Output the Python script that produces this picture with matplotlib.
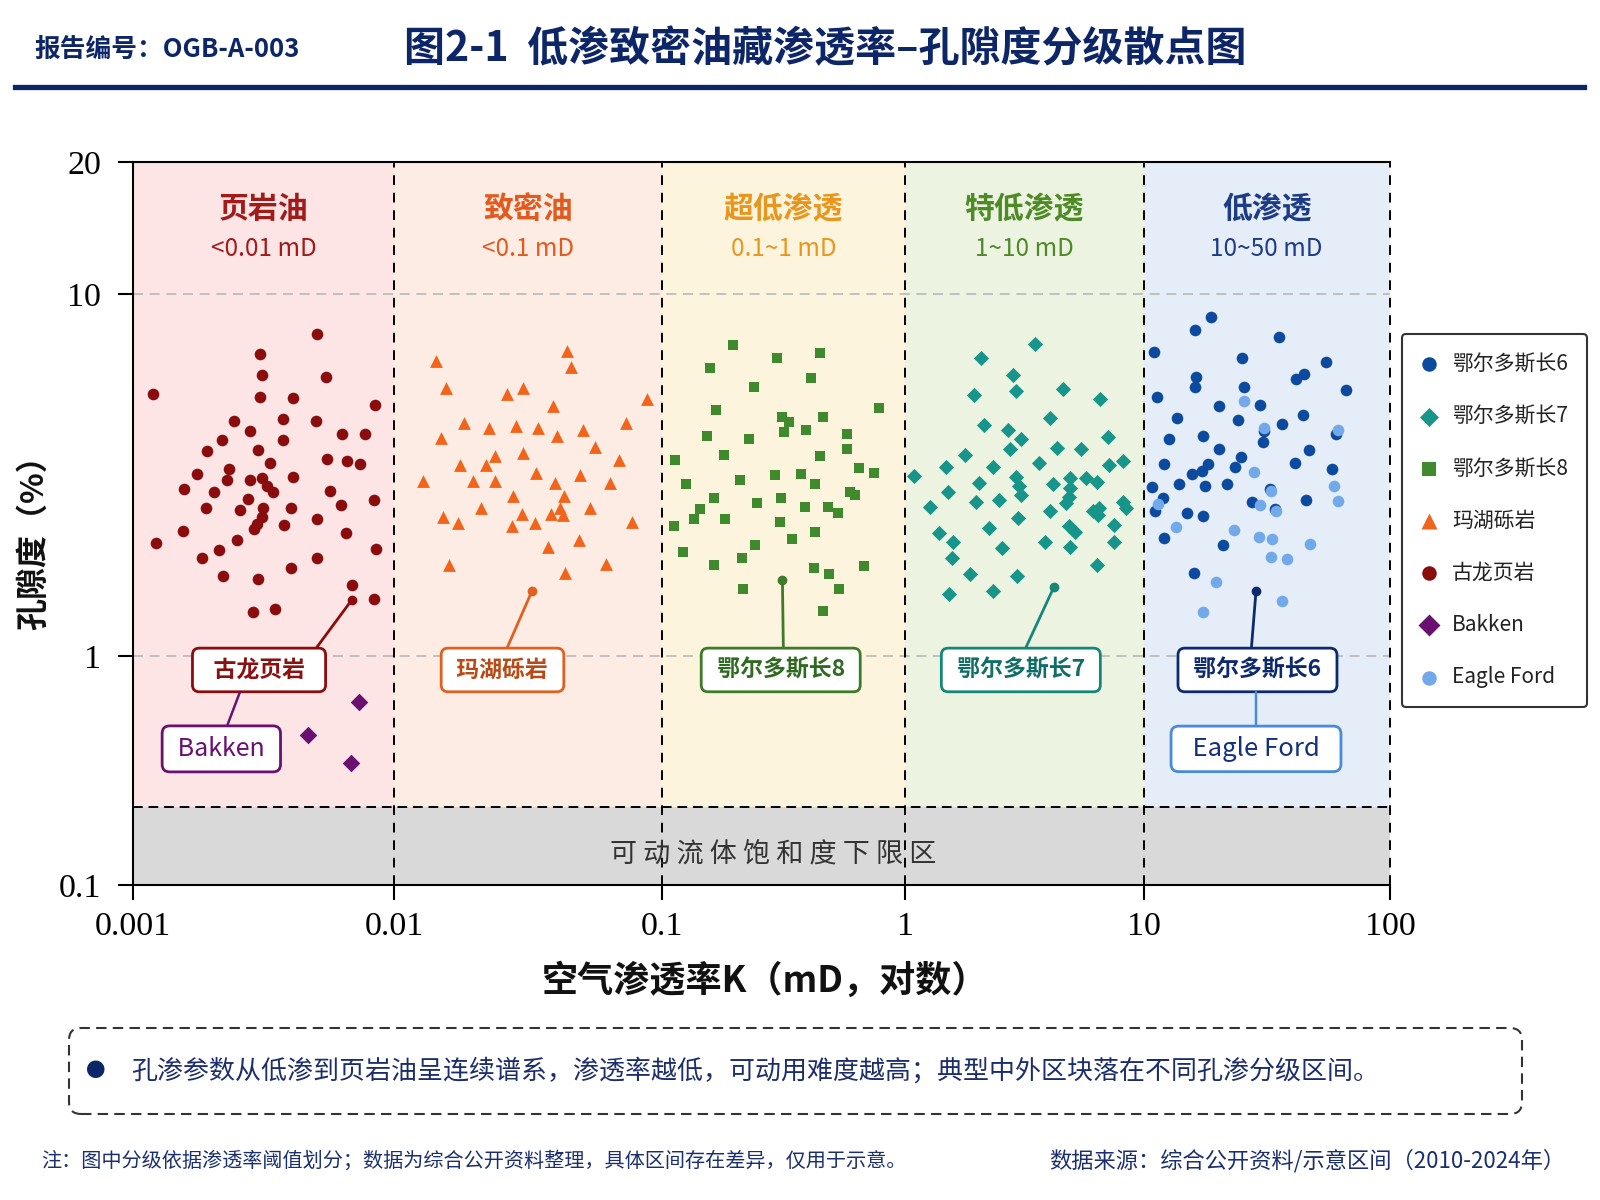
import numpy as np
import matplotlib
matplotlib.use("Agg")
import matplotlib.pyplot as plt
import matplotlib.transforms as mtransforms
from matplotlib.patches import FancyBboxPatch
from matplotlib.lines import Line2D

# DATA #

# permeability K (mD) / porosity (%)
gulong_k = [0.00506, 0.00307, 0.00313, 0.00547, 0.00119, 0.00307, 0.00410, 0.00848, 0.00244, 0.00376,
            0.00502, 0.00281, 0.00634, 0.00774, 0.00219, 0.00377, 0.00192, 0.00300, 0.00336, 0.00552,
            0.00659, 0.00741, 0.00176, 0.00233, 0.00230, 0.00281, 0.00313, 0.00410, 0.00325, 0.00343,
            0.00157, 0.00204, 0.00569, 0.00277, 0.00190, 0.00258, 0.00315, 0.00402, 0.00628, 0.00840,
            0.00311, 0.00299, 0.00291, 0.00379, 0.00506, 0.00156, 0.00656, 0.00123, 0.00251, 0.00213,
            0.00184, 0.00508, 0.00851, 0.00222, 0.00300, 0.00403, 0.00692, 0.00836, 0.00288, 0.00351]
gulong_phi = [7.74, 6.83, 5.98, 5.89, 5.30, 5.18, 5.16, 4.94, 4.46, 4.52,
              4.47, 4.18, 4.11, 4.11, 3.94, 3.96, 3.68, 3.71, 3.41, 3.51,
              3.46, 3.40, 3.19, 3.28, 3.07, 3.06, 3.10, 3.12, 2.94, 2.83,
              2.89, 2.84, 2.86, 2.72, 2.57, 2.53, 2.56, 2.56, 2.61, 2.70,
              2.42, 2.31, 2.24, 2.30, 2.39, 2.21, 2.18, 2.05, 2.09, 1.96,
              1.86, 1.87, 1.98, 1.66, 1.63, 1.75, 1.57, 1.44, 1.32, 1.35]

mahu_k = [0.0144, 0.0443, 0.0457, 0.0156, 0.0264, 0.0302, 0.0881, 0.0391, 0.0182, 0.0226,
          0.0285, 0.0345, 0.0508, 0.0736, 0.0150, 0.0405, 0.0564, 0.0239, 0.0302, 0.0176,
          0.0220, 0.0693, 0.0128, 0.0197, 0.0239, 0.0340, 0.0400, 0.0494, 0.0641, 0.0277,
          0.0430, 0.0211, 0.0537, 0.0153, 0.0174, 0.0301, 0.0386, 0.0416, 0.0426, 0.0275,
          0.0335, 0.0773, 0.0489, 0.0376, 0.0160, 0.0620, 0.0434]
mahu_phi = [6.53, 6.96, 6.29, 5.51, 5.29, 5.49, 5.12, 4.91, 4.41, 4.26,
            4.33, 4.27, 4.21, 4.41, 3.99, 4.05, 3.79, 3.57, 3.64, 3.36,
            3.37, 3.47, 3.04, 3.05, 3.05, 3.20, 3.01, 3.17, 3.01, 2.76,
            2.76, 2.56, 2.57, 2.42, 2.33, 2.46, 2.46, 2.57, 2.45, 2.28,
            2.33, 2.34, 2.09, 2.00, 1.78, 1.80, 1.70]

ordos8_k = [0.196, 0.298, 0.448, 0.158, 0.409, 0.239, 0.167, 0.782, 0.312, 0.332,
            0.458, 0.319, 0.390, 0.153, 0.229, 0.575, 0.577, 0.180, 0.113, 0.448,
            0.645, 0.745, 0.291, 0.372, 0.125, 0.210, 0.428, 0.163, 0.308, 0.594,
            0.621, 0.247, 0.389, 0.483, 0.532, 0.143, 0.135, 0.182, 0.112, 0.307,
            0.425, 0.343, 0.241, 0.122, 0.214, 0.164, 0.424, 0.485, 0.678, 0.216,
            0.537, 0.460]
ordos8_phi = [7.23, 6.65, 6.87, 6.26, 5.87, 5.52, 4.78, 4.84, 4.56, 4.42,
              4.56, 4.15, 4.21, 4.06, 3.98, 4.11, 3.72, 3.60, 3.47, 3.57,
              3.31, 3.20, 3.16, 3.19, 2.99, 3.06, 2.98, 2.74, 2.73, 2.84,
              2.78, 2.64, 2.58, 2.58, 2.49, 2.55, 2.39, 2.39, 2.28, 2.34,
              2.20, 2.10, 2.02, 1.94, 1.87, 1.78, 1.75, 1.69, 1.77, 1.53,
              1.53, 1.33]

ordos7_k = [3.50, 2.08, 2.84, 2.91, 4.60, 1.94, 6.57, 4.05, 2.14, 2.70,
            3.06, 7.12, 2.76, 4.34, 5.49, 1.79, 8.18, 7.19, 3.65, 1.48,
            2.35, 1.09, 2.91, 4.93, 5.72, 6.37, 2.04, 4.19, 3.01, 4.91,
            1.52, 3.05, 4.87, 1.98, 2.49, 4.73, 8.18, 1.27, 8.47, 4.05,
            6.12, 6.51, 6.45, 2.98, 2.25, 4.89, 5.15, 7.55, 1.39, 1.59,
            2.54, 3.85, 4.93, 7.55, 1.58, 6.40, 1.87, 2.94, 1.53, 2.35]
ordos7_phi = [7.28, 6.67, 5.97, 5.38, 5.46, 5.25, 5.13, 4.55, 4.36, 4.22,
              3.98, 4.02, 3.74, 3.75, 3.73, 3.58, 3.46, 3.36, 3.41, 3.33,
              3.33, 3.14, 3.13, 3.10, 3.10, 3.02, 3.00, 2.99, 2.94, 2.92,
              2.84, 2.79, 2.75, 2.67, 2.70, 2.64, 2.67, 2.58, 2.57, 2.51,
              2.52, 2.56, 2.45, 2.41, 2.26, 2.29, 2.20, 2.30, 2.19, 2.07,
              1.99, 2.06, 2.00, 2.06, 1.87, 1.78, 1.69, 1.66, 1.48, 1.51]

ordos6_k = [18.8, 16.2, 35.6, 11.0, 25.0, 54.8, 16.3, 41.4, 44.9, 16.2,
            25.5, 66.1, 11.3, 20.2, 29.8, 13.7, 24.1, 44.4, 36.4, 30.7,
            60.2, 12.7, 17.5, 30.6, 20.2, 46.8, 24.9, 12.1, 18.3, 23.5,
            41.0, 17.2, 15.7, 58.3, 10.8, 13.9, 17.8, 21.9, 32.6, 12.0,
            11.1, 27.6, 45.5, 34.1, 15.0, 17.5, 12.1, 21.1, 16.0]
ordos6_phi = [8.62, 7.97, 7.61, 6.90, 6.65, 6.49, 5.90, 5.82, 6.01, 5.52,
              5.52, 5.43, 5.18, 4.91, 4.95, 4.54, 4.49, 4.64, 4.38, 4.19,
              4.10, 3.98, 4.06, 3.89, 3.72, 3.71, 3.54, 3.40, 3.39, 3.33,
              3.41, 3.24, 3.19, 3.28, 2.93, 2.99, 2.94, 2.99, 2.90, 2.74,
              2.52, 2.67, 2.70, 2.55, 2.48, 2.44, 2.12, 2.02, 1.70]

eagle_k = [25.5, 30.7, 61.5, 28.0, 32.8, 59.1, 29.7, 61.4, 34.4, 13.6,
           23.2, 29.3, 33.1, 47.4, 33.0, 38.2, 19.7, 36.4, 17.5, 11.4]
eagle_phi = [5.07, 4.27, 4.20, 3.23, 2.86, 2.94, 2.62, 2.68, 2.51, 2.27,
             2.23, 2.13, 2.11, 2.04, 1.88, 1.85, 1.60, 1.42, 1.32, 2.63]

bakken_k = [0.00736, 0.00467, 0.00687]
bakken_phi = [0.630, 0.451, 0.342]

# permeability classes
band_edges = [0.001, 0.01, 0.1, 1, 10, 100]
band_names = ["页岩油", "致密油", "超低渗透", "特低渗透", "低渗透"]
band_ranges = ["<0.01 mD", "<0.1 mD", "0.1~1 mD", "1~10 mD", "10~50 mD"]
movable_limit = 0.22  # porosity floor of the grey zone

x_ticks = [0.001, 0.01, 0.1, 1, 10, 100]
x_tick_labels = ["0.001", "0.01", "0.1", "1", "10", "100"]
y_ticks = [0.1, 1, 10, 20]
y_tick_labels = ["0.1", "1", "10", "20"]

# label name, anchor point (K, phi), box centre (K, phi)
callouts = [
    ("古龙页岩", (0.0069, 1.43), (0.00304, 0.869)),
    ("玛湖砾岩", (0.0327, 1.51), (0.0254, 0.869)),
    ("鄂尔多斯长8", (0.313, 1.62), (0.308, 0.869)),
    ("鄂尔多斯长7", (4.21, 1.55), (3.06, 0.869)),
    ("鄂尔多斯长6", (28.6, 1.51), (29.0, 0.869)),
]

# STYLE #

plt.rcParams["font.family"] = ["Noto Sans CJK SC", "DejaVu Sans"]
NAVY = "#0c2668"

band_fill = ["#fde5e5", "#fdece3", "#fdf4dd", "#ecf4e1", "#e4edf8"]
band_text = ["#a11b1b", "#e25a1e", "#e8961e", "#4e8b26", "#1d3c85"]

c_ordos6 = "#0b4a9e"
c_ordos7 = "#17958a"
c_ordos8 = "#3f8a2c"
c_mahu = "#f26419"
c_gulong = "#8b0c0c"
c_bakken = "#6a1070"
c_eagle = "#72a9ea"

# edge colour, text colour, where the leader leaves the box, extra side padding
callout_style = {
    "古龙页岩": (c_gulong, "#8b1010", (0.94, 1.0), "  "),
    "玛湖砾岩": ("#e06020", "#b84a15", (0.5, 1.0), " "),
    "鄂尔多斯长8": ("#3d7a2a", "#2e6b20", (0.52, 1.0), " "),
    "鄂尔多斯长7": ("#17867a", "#0f6f66", (0.5, 1.0), " "),
    "鄂尔多斯长6": ("#0d2a6e", "#0d2a6e", (0.45, 1.0), " "),
}


def piecewise_log(logs, pos):
    # the picture's decades are not all the same size, so map log10 piecewise
    logs = list(logs)
    pos = list(pos)
    s0 = (pos[1] - pos[0]) / (logs[1] - logs[0])
    s1 = (pos[-1] - pos[-2]) / (logs[-1] - logs[-2])
    logs = np.array([logs[0] - 20] + logs + [logs[-1] + 20])
    pos = np.array([pos[0] - 20 * s0] + pos + [pos[-1] + 20 * s1])

    def fwd(v):
        v = np.clip(np.asarray(v, dtype=float), 1e-30, None)
        return np.interp(np.log10(v), logs, pos)

    def inv(p):
        return 10 ** np.interp(np.asarray(p, dtype=float), pos, logs)

    return fwd, inv


fig = plt.figure(figsize=(16, 12), dpi=100)
fig.patch.set_facecolor("white")
ax = fig.add_axes([133 / 1600, 1 - 885 / 1200, 1257 / 1600, 723 / 1200])

ax.set_xscale("function", functions=piecewise_log([-3, -2, -1, 0, 1, 2],
                                                  [0, 261, 529, 772, 1010.5, 1257]))
ax.set_yscale("function", functions=piecewise_log([-1, 0, 1, np.log10(20)],
                                                  [0, 229, 591, 723]))
ax.set_xlim(0.001, 100)
ax.set_ylim(0.1, 20)

# BACKGROUND BANDS #
for i in range(len(band_names)):
    ax.axvspan(band_edges[i], band_edges[i + 1], color=band_fill[i], lw=0, zorder=0)
ax.axhspan(0.1, movable_limit, color="#d9d9d9", lw=0, zorder=1)
for v in [1, 10]:
    ax.axhline(v, color="#b8b8b8", ls=(0, (6, 4)), lw=1.2, zorder=1.5)
ax.axhline(movable_limit, color="black", ls=(0, (5, 3)), lw=1.4, zorder=2)
for v in band_edges[1:]:
    ax.axvline(v, color="black", ls=(0, (5, 4)), lw=1.4, zorder=2, clip_on=False)

xt = ax.get_xaxis_transform()
for i in range(len(band_names)):
    xc = np.sqrt(band_edges[i] * band_edges[i + 1])
    ax.text(xc, 0.935, band_names[i], transform=xt, ha="center", va="center",
            fontsize=21.5, fontweight="bold", color=band_text[i], zorder=3)
    ax.text(xc, 0.879, band_ranges[i], transform=xt, ha="center", va="center",
            fontsize=17.5, color=band_text[i], zorder=3)

ax.text(0.509, 0.043, " ".join("可动流体饱和度下限区"), transform=ax.transAxes,
        ha="center", va="center", fontsize=19.5, color="#333333", zorder=3)

# SCATTER #
h6 = ax.scatter(ordos6_k, ordos6_phi, s=70, marker="o", color=c_ordos6, lw=0, zorder=4)
h7 = ax.scatter(ordos7_k, ordos7_phi, s=60, marker="D", color=c_ordos7, lw=0, zorder=4)
h8 = ax.scatter(ordos8_k, ordos8_phi, s=62, marker="s", color=c_ordos8, lw=0, zorder=4)
hm = ax.scatter(mahu_k, mahu_phi, s=85, marker="^", color=c_mahu, lw=0, zorder=4)
hg = ax.scatter(gulong_k, gulong_phi, s=70, marker="o", color=c_gulong, lw=0, zorder=4)
hb = ax.scatter(bakken_k, bakken_phi, s=80, marker="D", color=c_bakken, lw=0, zorder=4)
he = ax.scatter(eagle_k, eagle_phi, s=70, marker="o", color=c_eagle, lw=0, zorder=4)

# CALLOUTS #
for name, anchor, box in callouts:
    ec, tc, rp, side = callout_style[name]
    ax.plot(anchor[0], anchor[1], "o", ms=6, color=ec, zorder=5)
    ax.annotate(side + name + side, xy=anchor, xytext=box, textcoords="data",
                ha="center", va="center", fontsize=16.5, fontweight="bold", color=tc,
                bbox=dict(boxstyle="round,pad=0.45,rounding_size=0.3", fc="white", ec=ec, lw=2),
                arrowprops=dict(arrowstyle="-", color=ec, lw=2, relpos=rp,
                                shrinkA=0, shrinkB=0),
                zorder=6)

ax.annotate(" Bakken ", xy=(0.00257, 0.697), xytext=(0.00218, 0.393), textcoords="data",
            ha="center", va="center", fontsize=18, color=c_bakken,
            bbox=dict(boxstyle="round,pad=0.4,rounding_size=0.3", fc="white", ec=c_bakken, lw=2),
            arrowprops=dict(arrowstyle="-", color=c_bakken, lw=1.8, relpos=(0.52, 1.0),
                            shrinkA=0, shrinkB=0),
            zorder=6)
ax.annotate("  Eagle Ford  ", xy=(28.6, 0.697), xytext=(28.6, 0.393), textcoords="data",
            ha="center", va="center", fontsize=18.5, color="#12317a",
            bbox=dict(boxstyle="round,pad=0.38,rounding_size=0.3", fc="white", ec="#4a8ad8", lw=2),
            arrowprops=dict(arrowstyle="-", color="#4a8ad8", lw=1.8, relpos=(0.5, 1.0),
                            shrinkA=0, shrinkB=0),
            zorder=6)

# AXES #
ax.minorticks_off()
ax.set_xticks(x_ticks)
ax.set_xticklabels(x_tick_labels, fontfamily="Liberation Serif", fontsize=24.5)
ax.set_yticks(y_ticks)
ax.set_yticklabels(y_tick_labels, fontfamily="Liberation Serif", fontsize=24.5)
ax.tick_params(direction="out", length=11, width=1.5, colors="black")
ax.tick_params(axis="x", pad=8)
ax.tick_params(axis="y", pad=12)
ax.spines["right"].set_visible(False)
for side in ["top", "left", "bottom"]:
    ax.spines[side].set_linewidth(1.5)
    ax.spines[side].set_color("black")

fig.text(765 / 1600, 1 - 981 / 1200, "空气渗透率K（mD，对数）", ha="center", va="center",
         fontsize=26, fontweight="bold", color="#111111")
fig.text(34 / 1600, 1 - 535 / 1200, "孔隙度（%）", ha="center", va="center", rotation=90,
         fontsize=23, fontweight="bold", color="#111111")

leg = ax.legend([h6, h7, h8, hm, hg, hb, he],
                ["鄂尔多斯长6", "鄂尔多斯长7", "鄂尔多斯长8", "玛湖砾岩", "古龙页岩", "Bakken", "Eagle Ford"],
                loc="upper left", bbox_to_anchor=(1.0095, 0.762), borderaxespad=0,
                fontsize=15, frameon=True, fancybox=True, borderpad=0.9, labelspacing=1.45,
                handlelength=0.8, handletextpad=0.7, scatterpoints=1, markerscale=1.25)
leg.get_frame().set_edgecolor("black")
leg.get_frame().set_linewidth(1.5)
for t in leg.get_texts():
    t.set_color("#222222")

# HEADER #
fig.text(34 / 1600, 1 - 49 / 1200, "报告编号：OGB-A-003", ha="left", va="center",
         fontsize=18.5, fontweight="bold", color=NAVY)
fig.text(825 / 1600, 1 - 49 / 1200, "图2-1  低渗致密油藏渗透率–孔隙度分级散点图", ha="center",
         va="center", fontsize=29.5, fontweight="bold", color=NAVY)
fig.add_artist(Line2D([15 / 1600, 1584 / 1600], [1 - 87 / 1200, 1 - 87 / 1200],
                      transform=fig.transFigure, color=NAVY, lw=3.8))

# NOTE BOX + FOOTER #
note = FancyBboxPatch((69, 86), 1453, 86, boxstyle="round,pad=0,rounding_size=12",
                      transform=mtransforms.IdentityTransform(), fill=False,
                      ec="#333333", lw=1.5, ls=(0, (5, 3)))
fig.add_artist(note)
fig.text(96 / 1600, 1 - 1071 / 1200, "●", ha="center", va="center", fontsize=14, color=NAVY)
fig.text(131 / 1600, 1 - 1071 / 1200,
         "孔渗参数从低渗到页岩油呈连续谱系，渗透率越低，可动用难度越高；典型中外区块落在不同孔渗分级区间。",
         ha="left", va="center", fontsize=18.7, color="#1c2d6b")
fig.text(41 / 1600, 1 - 1161 / 1200,
         "注：图中分级依据渗透率阈值划分；数据为综合公开资料整理，具体区间存在差异，仅用于示意。",
         ha="left", va="center", fontsize=14.5, color="#1b2f6e")
fig.text(1565 / 1600, 1 - 1161 / 1200, "数据来源：综合公开资料/示意区间（2010-2024年）",
         ha="right", va="center", fontsize=16, color="#1b2f6e")

fig.savefig("out.png", dpi=100)
